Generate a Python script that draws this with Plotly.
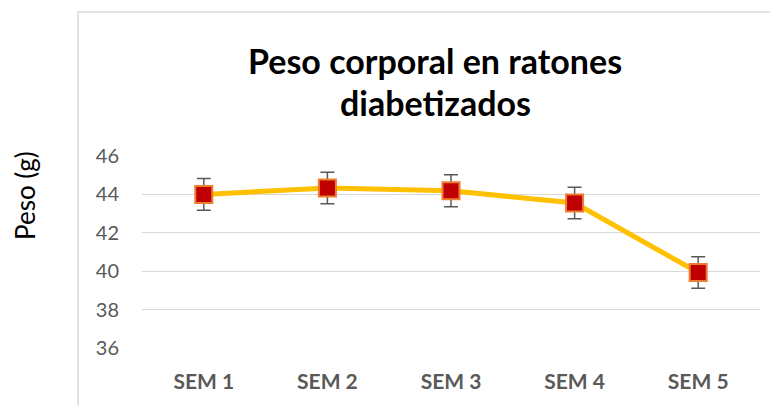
import plotly.graph_objects as go

categories = ["SEM 1", "SEM 2", "SEM 3", "SEM 4", "SEM 5"]
peso = [44.0, 44.33, 44.19, 43.55, 39.93]
error = [0.83, 0.82, 0.83, 0.82, 0.82]
y_ticks = [36, 38, 40, 42, 44, 46]
title_lines = ["Peso corporal en ratones", "diabetizados"]
y_title = "Peso (g)"

# page body has an 8px margin; work in reference pixel coords and shift
OFF = 8
W, H = 778 - OFF, 405 - OFF
PL, PR, PT, PB = 142, 760, 156, 348   # plot area in reference pixels
L, R, T, B = PL - OFF, 778 - PR, PT - OFF, 405 - PB
pw, ph = PR - PL, PB - PT

def px_x(x):
    return (x - PL) / pw

def px_y(y):
    return (PB - y) / ph

fig = go.Figure()
fig.add_trace(go.Scatter(
    x=categories, y=peso, mode="lines+markers",
    line=dict(color="#FFC000", width=5),
    marker=dict(symbol="square", size=17, color="#C00000",
                line=dict(color="#ED7D31", width=2)),
    error_y=dict(type="data", array=error, visible=True,
                 color="#595959", thickness=1.5, width=7),
    showlegend=False,
))

fig.update_layout(
    width=W, height=H,
    margin=dict(l=L, r=R, t=T, b=B, autoexpand=False),
    paper_bgcolor="white", plot_bgcolor="white",
    xaxis=dict(type="category", range=[-0.5, 4.5], showgrid=False,
               showline=False, zeroline=False, ticks="",
               tickfont=dict(family="Lato", size=21, color="#595959", weight="bold"),
               ticklabelstandoff=19),
    yaxis=dict(range=[36, 46], tickvals=y_ticks, showgrid=True,
               gridcolor="#D9D9D9", gridwidth=1, zeroline=False,
               showline=False, ticks="",
               tickfont=dict(family="Lato", size=20, color="#595959"),
               ticklabelstandoff=22),
    shapes=[dict(type="rect", xref="paper", yref="paper",
                 x0=px_x(78), x1=px_x(790), y0=px_y(420), y1=px_y(12),
                 line=dict(color="#D9D9D9", width=1.5), fillcolor="rgba(0,0,0,0)",
                 layer="below")],
    annotations=[
        dict(text="<b>%s</b>" % title_lines[0],
             xref="paper", yref="paper", x=px_x(435), y=px_y(61),
             xanchor="center", yanchor="middle", showarrow=False,
             font=dict(family="Lato", size=34, color="black")),
        dict(text="<b>%s</b>" % title_lines[1],
             xref="paper", yref="paper", x=px_x(435), y=px_y(102),
             xanchor="center", yanchor="middle", showarrow=False,
             font=dict(family="Lato", size=34, color="black")),
        dict(text=y_title, textangle=-90,
             xref="paper", yref="paper", x=px_x(25), y=px_y(196),
             xanchor="center", yanchor="middle", showarrow=False,
             font=dict(family="Lato", size=26, color="black")),
    ],
)

fig.write_html("out.html")
